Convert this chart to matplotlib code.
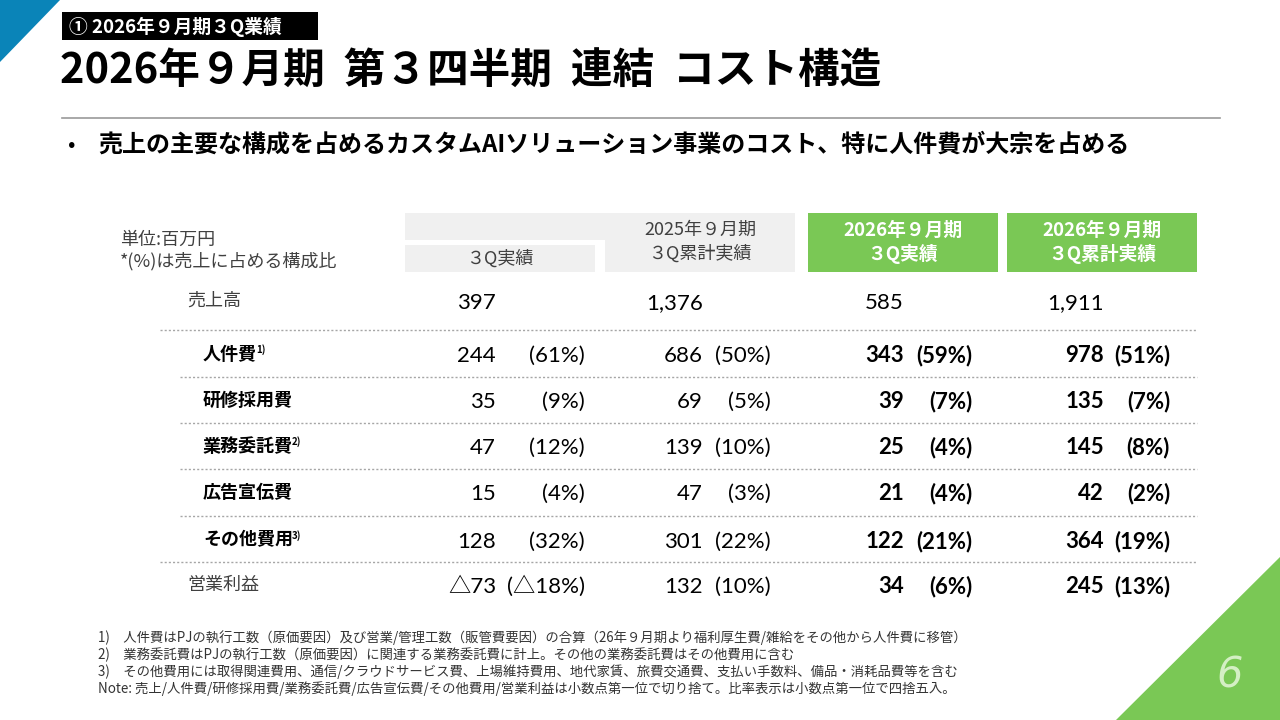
import matplotlib
matplotlib.use("Agg")
import matplotlib.pyplot as plt
from matplotlib.patches import Rectangle, Polygon

plt.rcParams['font.family'] = ['Noto Sans CJK JP', 'DejaVu Sans']

# ---------------- data ----------------
section_label = "① 2026年９月期３Q業績"
title = "2026年９月期  第３四半期  連結  コスト構造"
bullet = "売上の主要な構成を占めるカスタムAIソリューション事業のコスト、特に人件費が大宗を占める"
unit_lines = ["単位:百万円", "*(%)は売上に占める構成比"]

sales_label = "売上高"
sales_values = ["397", "1,376", "585", "1,911"]

cost_labels = ["人件費", "研修採用費", "業務委託費", "広告宣伝費", "その他費用"]
cost_notes = ["1)", "", "2)", "", "3)"]
q3_2025 = [244, 35, 47, 15, 128]
q3_2025_pct = ["(61%)", "(9%)", "(12%)", "(4%)", "(32%)"]
cum_2025 = [686, 69, 139, 47, 301]
cum_2025_pct = ["(50%)", "(5%)", "(10%)", "(3%)", "(22%)"]
q3_2026 = [343, 39, 25, 21, 122]
q3_2026_pct = ["(59%)", "(7%)", "(4%)", "(4%)", "(21%)"]
cum_2026 = [978, 135, 145, 42, 364]
cum_2026_pct = ["(51%)", "(7%)", "(8%)", "(2%)", "(19%)"]

op_label = "営業利益"
op_values = ["△73", "132", "34", "245"]
op_pct = ["(△18%)", "(10%)", "(6%)", "(13%)"]

footnotes = [
    "1)　人件費はPJの執行工数（原価要因）及び営業/管理工数（販管費要因）の合算（26年９月期より福利厚生費/雑給をその他から人件費に移管）",
    "2)　業務委託費はPJの執行工数（原価要因）に関連する業務委託費に計上。その他の業務委託費はその他費用に含む",
    "3)　その他費用には取得関連費用、通信/クラウドサービス費、上場維持費用、地代家賃、旅費交通費、支払い手数料、備品・消耗品費等を含む",
    "Note: 売上/人件費/研修採用費/業務委託費/広告宣伝費/その他費用/営業利益は小数点第一位で切り捨て。比率表示は小数点第一位で四捨五入。",
]
page_no = "6"

# ---------------- figure ----------------
fig = plt.figure(figsize=(12.8, 7.2), dpi=100)
ax = fig.add_axes([0, 0, 1, 1])
ax.set_xlim(0, 1280)
ax.set_ylim(720, 0)
ax.axis("off")

GREEN = "#7ac855"
BLUE = "#0a84b8"
GRAY_BOX = "#f0f0f0"
TXT = "#000000"
DARK = "#404040"
NUMFAM = ['Lato', 'Noto Sans CJK JP', 'DejaVu Sans']
BASE_OFF = 8  # baseline offset (px) below row centre for numbers

# corner decorations
ax.add_patch(Polygon([(0, 0), (60, 0), (0, 62)], closed=True, color=BLUE, lw=0))
ax.add_patch(Polygon([(1116, 720), (1280, 557), (1280, 720)], closed=True, color=GREEN, lw=0))
ax.text(1230, 676, page_no, fontsize=30, style="italic", color="#d4efc4",
        ha="center", va="center", family=["DejaVu Sans"])

# section label
ax.add_patch(Rectangle((62, 12), 256, 28, color="black", lw=0))
ax.text(69, 26.5, section_label, color="white", fontsize=13.5, fontweight="bold",
        va="center", ha="left")

# title
ax.text(60, 72, title, fontsize=30, fontweight="bold", color=TXT, va="center", ha="left")
ax.plot([62, 1220], [118, 118], color="#999999", lw=1.2)

# bullet
ax.text(68, 145, "•", fontsize=16, color=TXT, va="center", ha="left")
ax.text(98, 145, bullet, fontsize=17.3, fontweight="bold", color=TXT, va="center", ha="left")

# unit
ax.text(120, 240, unit_lines[0], fontsize=13, color=DARK, va="center", ha="left")
ax.text(120, 261, unit_lines[1], fontsize=13, color=DARK, va="center", ha="left")

# header boxes
ax.add_patch(Rectangle((405, 213), 390, 27, color=GRAY_BOX, lw=0))
ax.add_patch(Rectangle((405, 245), 190, 27, color=GRAY_BOX, lw=0))
ax.add_patch(Rectangle((605, 213), 190, 59, color=GRAY_BOX, lw=0))
ax.text(500, 259, "３Q実績", fontsize=13, color=DARK, ha="center", va="center")
ax.text(700, 230, "2025年９月期", fontsize=13, color=DARK, ha="center", va="center")
ax.text(700, 254, "３Q累計実績", fontsize=13, color=DARK, ha="center", va="center")
for x0, sub in [(808, "３Q実績"), (1007, "３Q累計実績")]:
    ax.add_patch(Rectangle((x0, 213), 190, 59, color=GREEN, lw=0))
    ax.text(x0 + 95, 230, "2026年９月期", fontsize=13.5, color="white", fontweight="bold",
            ha="center", va="center")
    ax.text(x0 + 95, 254, sub, fontsize=13.5, color="white", fontweight="bold",
            ha="center", va="center")

# table layout
val_right = [496, 703, 904, 1104]
pct_right = [585, 771, 972, 1170]
row_y = [301, 354, 400, 446, 492, 540, 585]
NUMFS = 16
LBLFS = 13

fig.canvas.draw()
renderer = fig.canvas.get_renderer()


def num(x, y, s, weight="normal"):
    ax.text(x, y + BASE_OFF, s, fontsize=NUMFS, fontweight=weight, color=TXT,
            va="baseline", ha="right", family=NUMFAM)


# sales row
ax.text(187, row_y[0], sales_label, fontsize=LBLFS, color=DARK, va="center", ha="left")
for c, v in enumerate(sales_values):
    num(val_right[c], row_y[0], v)

cols_vals = [q3_2025, cum_2025, q3_2026, cum_2026]
cols_pct = [q3_2025_pct, cum_2025_pct, q3_2026_pct, cum_2026_pct]
for r, lab in enumerate(cost_labels):
    y = row_y[r + 1]
    t = ax.text(203, y, lab, fontsize=LBLFS, fontweight="bold", color=TXT, va="center", ha="left")
    if cost_notes[r]:
        bb = t.get_window_extent(renderer=renderer)
        ax.text(bb.x1 - 1, y - 4, cost_notes[r], fontsize=7, fontweight="bold",
                color=TXT, va="center", ha="left")
    for c in range(4):
        w = "bold" if c >= 2 else "normal"
        num(val_right[c], y, f"{cols_vals[c][r]:,}", w)
        num(pct_right[c], y, cols_pct[c][r], w)

# operating profit row
y = row_y[-1]
ax.text(187, y, op_label, fontsize=LBLFS, color=DARK, va="center", ha="left")
for c in range(4):
    w = "bold" if c >= 2 else "normal"
    num(val_right[c], y, op_values[c], w)
    num(pct_right[c], y, op_pct[c], w)

# dotted separators
line_y = [330, 377, 423, 469, 516, 562]
line_x0 = [160, 180, 180, 180, 180, 160]
for ly, lx in zip(line_y, line_x0):
    ax.plot([lx, 1197], [ly, ly], color="#a6a6a6", lw=1, linestyle=(0, (1.5, 1.5)))

# footnotes
for i, fn in enumerate(footnotes):
    ax.text(98, 638 + i * 17, fn, fontsize=9.6, color="#333333", va="center", ha="left")

fig.savefig("out.png", dpi=100)
